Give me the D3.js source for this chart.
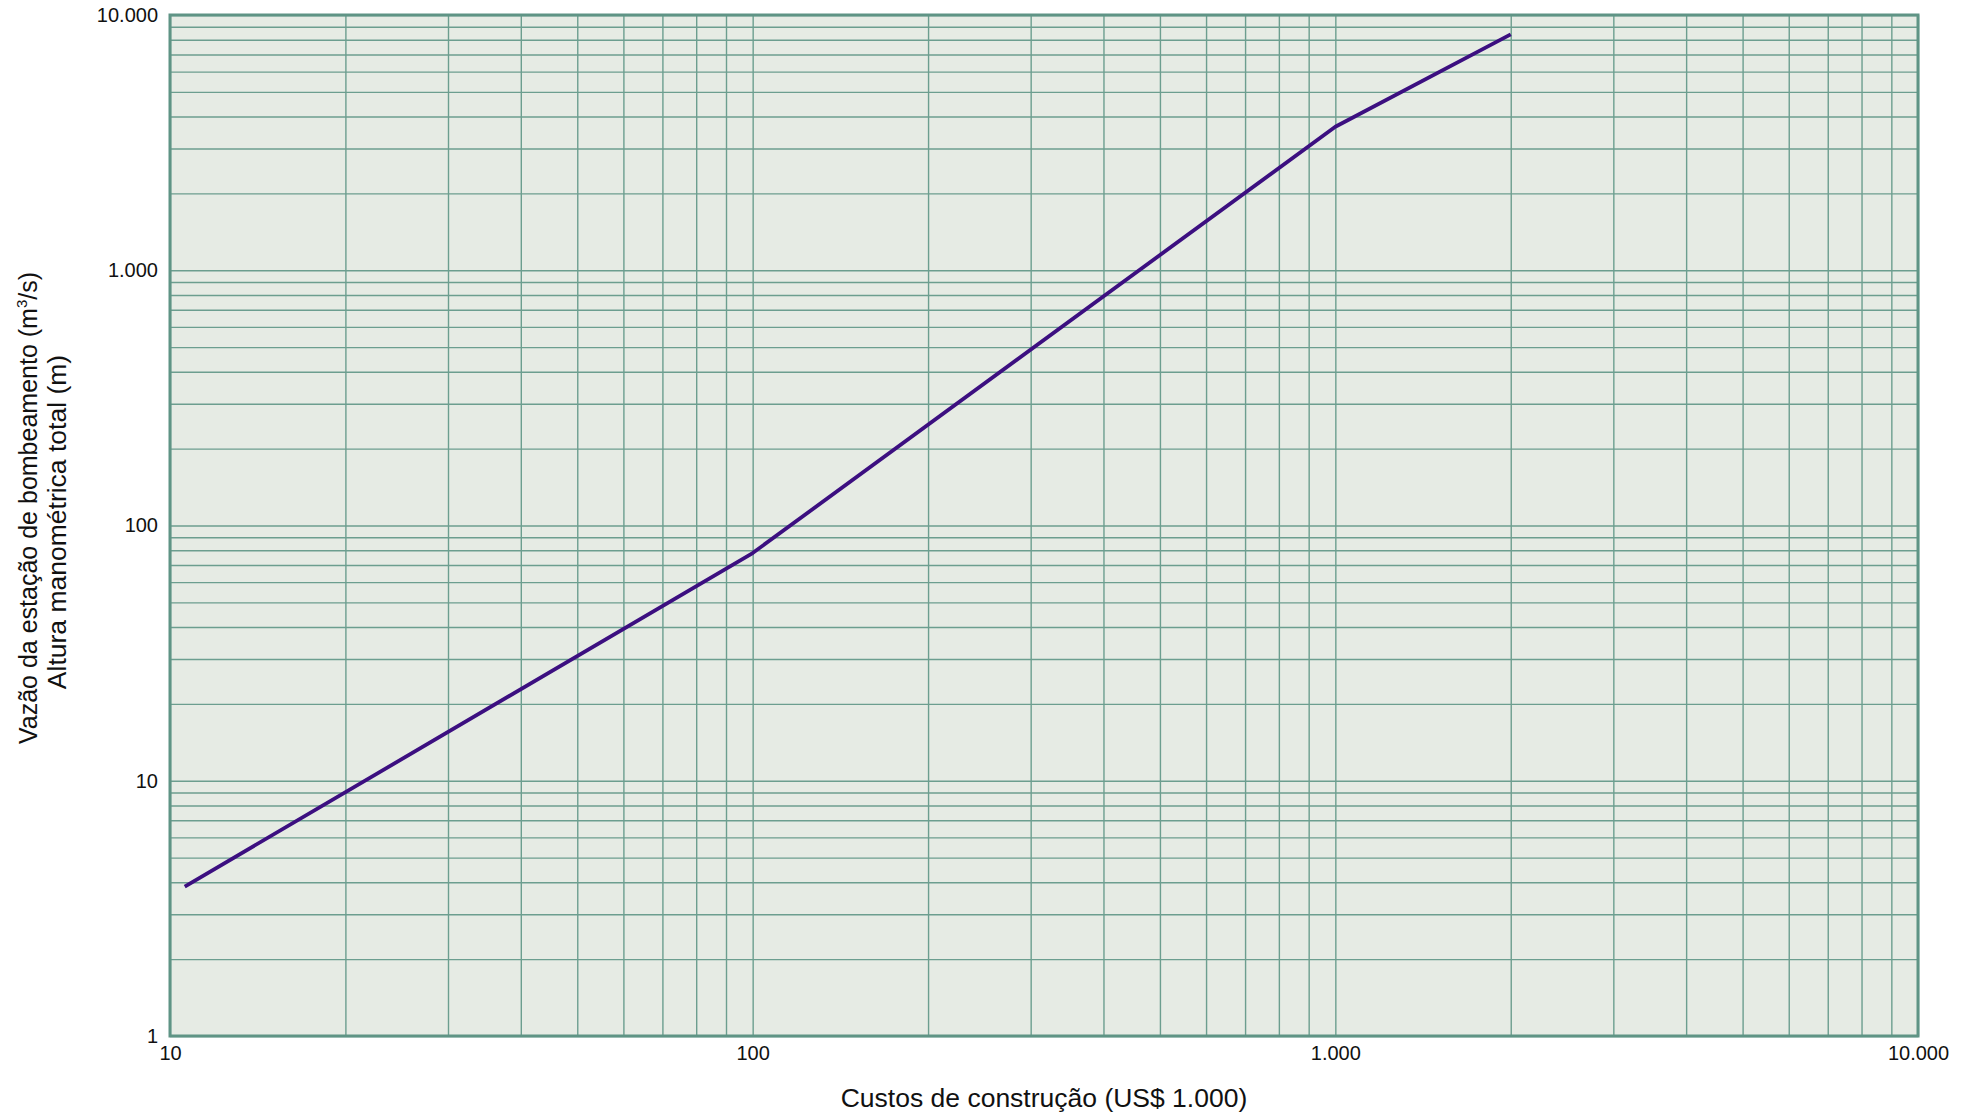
<!DOCTYPE html>
<html>
<head>
<meta charset="utf-8">
<script src="https://cdn.jsdelivr.net/npm/d3@7"></script>
<style>
  html, body { margin: 0; padding: 0; background: #ffffff; }
  svg { display: block; font-family: "Liberation Sans", Arial, sans-serif; }
</style>
</head>
<body>
<svg id="chart" width="1973" height="1116"></svg>
<script>
// Construction cost vs. pumping-station flow / total head (log–log)
const costs = [10.6, 100, 1000, 2000];          // US$ 1.000
const flowHead = [3.85, 78, 3650, 8400];          // m³/s · m
const xTickValues = [10, 100, 1000, 10000];
const yTickValues = [1, 10, 100, 1000, 10000];

const W = 1973, H = 1116;
const margin = { left: 170, right: W - 1918, top: 15, bottom: H - 1036 };

const svg = d3.select("#chart");
const x = d3.scaleLog().domain([10, 10000]).range([margin.left, W - margin.right]);
const y = d3.scaleLog().domain([1, 10000]).range([H - margin.bottom, margin.top]);

const ptBR = d3.formatLocale({ decimal: ",", thousands: ".", grouping: [3], currency: ["R$", ""] });
const fmt = ptBR.format(",d");

const gridColor = "#6c9e8f";
const frameColor = "#5f9485";
const fontFam = "Liberation Sans, Arial, sans-serif";

// plot background
svg.append("rect")
  .attr("x", x.range()[0]).attr("y", y.range()[1])
  .attr("width", x.range()[1] - x.range()[0])
  .attr("height", y.range()[0] - y.range()[1])
  .attr("fill", "#e6ebe4");

// minor + major grid (every 1..9 per decade)
function decadeTicks(lo, hi) {
  const out = [];
  for (let d = lo; d < hi; d *= 10) for (let k = 1; k <= 9; k++) out.push(d * k);
  out.push(hi);
  return out;
}
const xGrid = decadeTicks(10, 10000);
const yGrid = decadeTicks(1, 10000);

svg.append("g")
  .attr("transform", `translate(0,${y.range()[0]})`)
  .call(d3.axisBottom(x).tickValues(xGrid).tickSize(-(y.range()[0] - y.range()[1])).tickFormat(""))
  .call(g => g.select(".domain").remove())
  .call(g => g.selectAll("line").attr("stroke", gridColor).attr("stroke-width", 1.4));

svg.append("g")
  .attr("transform", `translate(${x.range()[0]},0)`)
  .call(d3.axisLeft(y).tickValues(yGrid).tickSize(-(x.range()[1] - x.range()[0])).tickFormat(""))
  .call(g => g.select(".domain").remove())
  .call(g => g.selectAll("line").attr("stroke", gridColor).attr("stroke-width", 1.4));

// frame
svg.append("rect")
  .attr("x", x.range()[0]).attr("y", y.range()[1])
  .attr("width", x.range()[1] - x.range()[0])
  .attr("height", y.range()[0] - y.range()[1])
  .attr("fill", "none").attr("stroke", frameColor).attr("stroke-width", 3);

// tick labels
const yAxis = svg.append("g")
  .attr("transform", `translate(${x.range()[0]},0)`)
  .call(d3.axisLeft(y).tickValues(yTickValues).tickSize(0).tickPadding(12).tickFormat(fmt));
yAxis.select(".domain").remove();
yAxis.selectAll("text").attr("font-size", 20).attr("fill", "#111").attr("font-family", fontFam);

const xAxis = svg.append("g")
  .attr("transform", `translate(0,${y.range()[0]})`)
  .call(d3.axisBottom(x).tickValues(xTickValues).tickSize(0).tickPadding(10).tickFormat(fmt));
xAxis.select(".domain").remove();
xAxis.selectAll("text").attr("font-size", 20).attr("fill", "#111").attr("font-family", fontFam);

// data line
svg.append("path")
  .datum(costs.map((c, i) => [c, flowHead[i]]))
  .attr("fill", "none")
  .attr("stroke", "#3c0f80")
  .attr("stroke-width", 3.8)
  .attr("stroke-linejoin", "round")
  .attr("d", d3.line().x(d => x(d[0])).y(d => y(d[1])));

// axis titles
svg.append("text")
  .attr("x", 1044)
  .attr("y", 1107)
  .attr("text-anchor", "middle")
  .attr("font-size", 26.5)
  .attr("fill", "#111")
  .text("Custos de construção (US$ 1.000)");

const t1 = svg.append("text")
  .attr("transform", `translate(37,508) rotate(-90)`)
  .attr("text-anchor", "middle")
  .attr("font-size", 25)
  .attr("fill", "#111");
t1.append("tspan").text("Vazão da estação de bombeamento (m");
t1.append("tspan").attr("font-size", 15).attr("dy", -10).text("3");
t1.append("tspan").attr("dy", 10).text("/s)");

svg.append("text")
  .attr("transform", `translate(66,522) rotate(-90)`)
  .attr("text-anchor", "middle")
  .attr("font-size", 26.5)
  .attr("fill", "#111")
  .text("Altura manométrica total (m)");
</script>
</body>
</html>
